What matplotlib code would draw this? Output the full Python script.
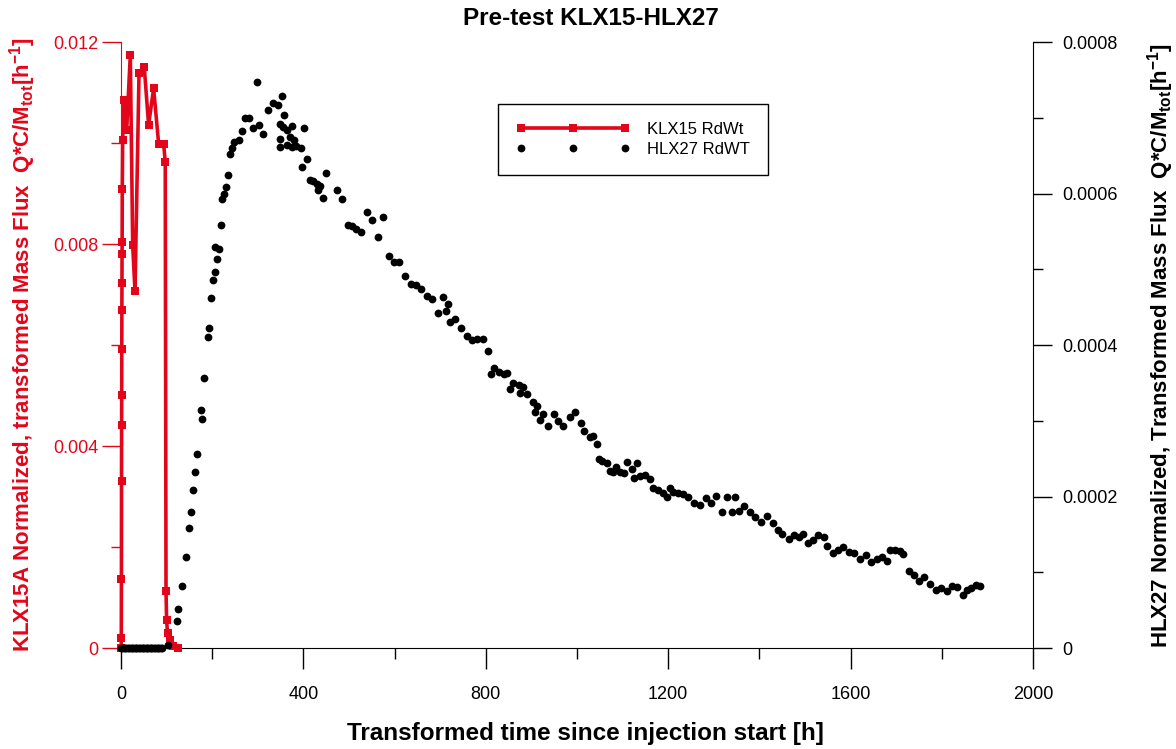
import numpy as np
import matplotlib
matplotlib.use("Agg")
import matplotlib.pyplot as plt
from matplotlib.ticker import MultipleLocator, FuncFormatter

RED = '#e3061a'
plt.rcParams['font.family'] = ['Liberation Sans', 'DejaVu Sans']
plt.rcParams['mathtext.fontset'] = 'custom'
plt.rcParams['mathtext.rm'] = 'Liberation Sans'
plt.rcParams['mathtext.bf'] = 'Liberation Sans:bold'

# KLX15 RdWt (left axis)
klx_t = [0.3, 0.6, 0.9, 1.1, 1.3, 1.5, 1.7, 1.9, 2.1, 2.3, 2.5, 2.8, 3.6, 6.6, 12.4,
         20.4, 25.6, 30.7, 39.5, 51.0, 60.5, 71.5, 82.5, 93.4, 97.0, 98.7, 100.0,
         102.0, 107.0, 115.0, 124.0]
klx_v = [0.0, 0.00019, 0.00136, 0.00331, 0.00442, 0.00501, 0.00592, 0.00669,
         0.00723, 0.0078, 0.00804, 0.00908, 0.01006, 0.01085, 0.01026, 0.01174,
         0.00798, 0.00706, 0.01138, 0.0115, 0.01036, 0.01108, 0.00999, 0.00999,
         0.00963, 0.00113, 0.00055, 0.00029, 0.00016, 0.00005, 0.0]

# HLX27 RdWT (right axis), values in units of 1e-4 1/h
hlx_t = [0, 3, 6, 9, 12, 15, 18, 21, 24, 27, 30, 33, 36, 39, 42, 45, 48, 51, 54, 57,
         60, 63, 66, 69, 72, 75, 78, 81, 84, 87, 90,
         102, 122, 126, 134, 142, 150, 153.5, 158.6, 162.3, 166, 174.6, 178, 182.7,
         190, 194, 197.4, 201, 206, 205.5, 211, 215, 218.6, 222, 226, 231, 235, 239,
         242.7, 248, 259, 266, 272.6, 280.5, 290, 298, 302.6, 310.5, 323, 332.6, 345,
         348.7, 348.7, 348.7, 353.8, 356, 357.5, 363, 363, 370.6, 374, 375, 380, 384,
         394, 396, 401, 407, 414.6, 422, 429, 431, 436.4, 443.6, 449, 473, 485,
         498.5, 505.7, 514.5, 526, 540, 551, 562.8, 575, 587.7, 599.4, 610,
         623, 635, 646, 658, 670, 683, 694.5, 707, 713, 716, 721.5, 732, 745, 758,
         769, 781, 793, 805, 811, 818, 829, 840, 847, 853, 859, 872, 875, 881, 891,
         903, 908, 913, 919, 925, 937, 949.5, 959, 970, 985, 996, 1009, 1016, 1028,
         1036, 1043, 1048, 1055.6, 1065, 1072, 1080, 1086, 1094, 1102, 1109, 1120,
         1126, 1132, 1138, 1149, 1160, 1167, 1178, 1188, 1197, 1204, 1211, 1222,
         1233, 1244, 1257, 1270, 1282, 1294, 1305, 1317, 1330, 1341, 1347, 1356,
         1367, 1380, 1391, 1404, 1416, 1429, 1440, 1450, 1464, 1475, 1486, 1495,
         1507, 1518, 1529, 1542, 1549, 1561, 1573, 1584, 1597, 1608, 1621, 1633,
         1645, 1657, 1668, 1680, 1686, 1697, 1708, 1716, 1727, 1739, 1751, 1762,
         1774, 1787, 1798, 1811, 1822, 1833, 1846, 1856, 1865, 1876, 1883]
hlx_v = [0, 0, 0, 0, 0, 0, 0, 0, 0, 0, 0, 0, 0, 0, 0, 0, 0, 0, 0, 0,
         0, 0, 0, 0, 0, 0, 0, 0, 0, 0, 0,
         0.04, 0.36, 0.51, 0.82, 1.20, 1.58, 1.80, 2.08, 2.32, 2.56, 3.14, 3.03, 3.57,
         4.10, 4.23, 4.62, 4.86, 4.97, 5.30, 5.14, 5.27, 5.58, 5.93, 5.99, 6.08, 6.25, 6.52,
         6.60, 6.68, 6.71, 6.82, 7.00, 7.00, 6.87, 7.47, 6.90, 6.79, 7.10, 7.19, 7.17,
         6.92, 6.72, 6.62, 7.29, 6.88, 7.04, 6.84, 6.64, 6.75, 6.61, 6.89, 6.70, 6.63,
         6.60, 6.35, 6.87, 6.45, 6.18, 6.16, 6.12, 6.05, 6.10, 5.94, 6.27, 6.04, 5.93,
         5.59, 5.57, 5.53, 5.49, 5.75, 5.65, 5.43, 5.69, 5.17, 5.09, 5.09,
         4.91, 4.80, 4.79, 4.74, 4.65, 4.61, 4.42, 4.64, 4.45, 4.54, 4.30, 4.35, 4.22, 4.12,
         4.06, 4.08, 4.08, 3.92, 3.62, 3.70, 3.65, 3.62, 3.63, 3.42, 3.50, 3.47, 3.37, 3.44, 3.35,
         3.25, 3.12, 3.20, 3.01, 3.09, 2.93, 3.09, 3.00, 2.93, 3.05, 3.12, 2.97, 2.86, 2.78,
         2.80, 2.70, 2.50, 2.47, 2.44, 2.34, 2.32, 2.39, 2.33, 2.31, 2.45, 2.37,
         2.24, 2.44, 2.27, 2.28, 2.23, 2.11, 2.08, 2.05, 2.00, 2.11, 2.06, 2.05,
         2.04, 2.00, 1.92, 1.89, 1.98, 1.91, 2.01, 1.79, 1.99, 1.79, 1.99, 1.81,
         1.87, 1.79, 1.73, 1.67, 1.74, 1.65, 1.56, 1.50, 1.44, 1.49, 1.47, 1.51,
         1.39, 1.43, 1.49, 1.47, 1.35, 1.26, 1.30, 1.33, 1.27, 1.26, 1.17, 1.23,
         1.13, 1.18, 1.20, 1.15, 1.29, 1.30, 1.28, 1.24, 1.02, 0.96, 0.88, 0.94,
         0.84, 0.76, 0.79, 0.75, 0.82, 0.80, 0.70, 0.76, 0.79, 0.83, 0.82]
hlx_v = np.array(hlx_v) * 1e-4

fig = plt.figure(figsize=(11.76, 7.49), dpi=100)
ax = fig.add_axes([0.1029, 0.1348, 0.7755, 0.8091])
ax2 = ax.twinx()

l1, = ax.plot(klx_t, klx_v, color=RED, lw=2.6, marker='s', ms=5.5,
              markeredgewidth=0, label='KLX15 RdWt', clip_on=False, zorder=3)
l2, = ax2.plot(hlx_t, hlx_v, ls='none', marker='o', ms=5.6, color='black',
               markeredgewidth=0, label='HLX27 RdWT', clip_on=False)

ax.set_xlim(0, 2000)
ax.set_ylim(0, 0.012)
ax2.set_ylim(0, 0.0008)

for a in (ax, ax2):
    a.spines['top'].set_visible(False)
ax.spines['right'].set_visible(False)
ax.spines['left'].set_color(RED)
ax2.spines['left'].set_visible(False)
ax2.spines['bottom'].set_visible(False)

ax.xaxis.set_major_locator(MultipleLocator(400))
ax.xaxis.set_minor_locator(MultipleLocator(200))
ax.yaxis.set_major_locator(MultipleLocator(0.004))
ax.yaxis.set_minor_locator(MultipleLocator(0.002))
ax2.yaxis.set_major_locator(MultipleLocator(0.0002))
ax2.yaxis.set_minor_locator(MultipleLocator(0.0001))

ax.yaxis.set_major_formatter(FuncFormatter(lambda v, p: '0' if abs(v) < 1e-12 else '%.3f' % v))
ax2.yaxis.set_major_formatter(FuncFormatter(lambda v, p: '0' if abs(v) < 1e-12 else '%.4f' % v))

ax.tick_params(axis='x', which='major', direction='out', length=15, width=1,
               labelsize=13, pad=12)
ax.tick_params(axis='x', which='minor', direction='out', length=8, width=1)
ax.tick_params(axis='y', which='major', direction='out', length=14, width=1,
               color=RED, labelcolor=RED, labelsize=13, pad=2)
ax.tick_params(axis='y', which='minor', direction='out', length=7, width=1, color=RED)
ax2.tick_params(axis='y', which='major', direction='out', length=14, width=1,
                labelsize=13, pad=7)
ax2.tick_params(axis='y', which='minor', direction='out', length=7, width=1)

ax.set_title('Pre-test KLX15-HLX27', fontsize=17.5, fontweight='bold', pad=12,
             x=0.515)
ax.set_xlabel('Transformed time since injection start [h]', fontsize=17.5,
              fontweight='bold', labelpad=14, x=0.509)
ax.set_ylabel(r'KLX15A Normalized, transformed Mass Flux  Q*C/M$_{\mathbf{tot}}$[h$^{\mathbf{-1}}$]',
              fontsize=16, fontweight='bold', color=RED, labelpad=11)
ax2.set_ylabel(r'HLX27 Normalized, Transformed Mass Flux  Q*C/M$_{\mathbf{tot}}$[h$^{\mathbf{-1}}$]',
               fontsize=16, fontweight='bold', rotation=90, labelpad=20)

leg = ax2.legend([l1, l2], ['KLX15 RdWt', 'HLX27 RdWT'], loc='upper left',
                 bbox_to_anchor=(0.413, 0.898), numpoints=3, handlelength=6.85,
                 handletextpad=1.0, fontsize=12, fancybox=False, framealpha=1,
                 edgecolor='black', borderpad=1.1, labelspacing=0.3, borderaxespad=0)
leg.get_frame().set_linewidth(1.0)

fig.savefig('out.png', dpi=100)
